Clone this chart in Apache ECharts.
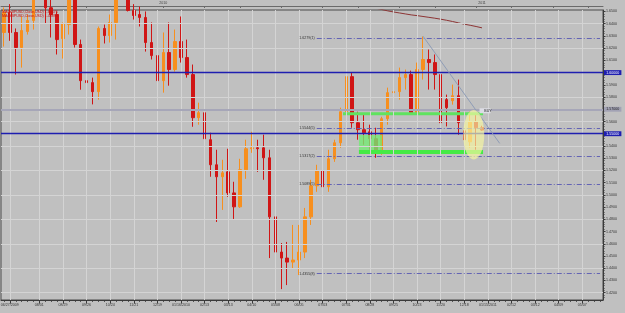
<!DOCTYPE html>
<html><head><meta charset="utf-8">
<script src="https://cdn.jsdelivr.net/npm/echarts@6/dist/echarts.min.js"></script>
<style>html,body{margin:0;padding:0;background:#c0c0c0;}#c{width:625px;height:313px;}</style>
</head><body><div id="c"></div>
<script>
// ---------- data ----------
const firstWeek = [2009, 5, 20];   // first weekly bar (label date)
const weekCount = 102;
const tickDates = ['06/27/2009','08/01/2009','08/29/2009','09/26/2009','10/24/2009','11/21/2009','12/19/2009','01/16/2010','02/13/2010','03/13/2010','04/10/2010','05/08/2010','06/05/2010','07/03/2010','07/31/2010','08/28/2010','09/25/2010','10/23/2010','11/20/2010','12/18/2010','01/15/2011','02/12/2011','03/12/2011','04/09/2011','05/07/2011'];
const tickText = ['06/27/2009','08/01','08/29','09/26','10/24','11/21','12/19','01/16/2010','02/13','03/13','04/10','05/08','06/05','07/03','07/31','08/28','09/25','10/23','11/20','12/18','01/15/2011','02/12','03/12','04/09','05/07'];
const yearDates = ['12/26/2009','01/08/2011'];
const yearText = ['2010','2011'];
const topTickIdx = [1,8,14,21,27,34,40,47,54,60,67,73,80,86,93,99];
const priceTicks = [1.42,1.43,1.44,1.45,1.46,1.47,1.48,1.49,1.50,1.51,1.52,1.53,1.54,1.55,1.56,1.57,1.58,1.59,1.60,1.61,1.62,1.63,1.64,1.65];
const gridLevels = [1.42,1.44,1.46,1.48,1.50,1.52,1.54,1.56,1.58,1.60,1.62,1.64];

const openP  = [1.6328,1.6492,1.6328,1.6205,1.6336,1.6426,1.6700,1.6640,1.6530,1.6475,1.6278,1.6393,1.6600,1.6230,1.5934,1.5918,1.5844,1.6361,1.6303,1.6410,1.6600,1.6700,1.6508,1.6475,1.6451,1.6246,1.6139,1.5934,1.6164,1.6025,1.6254,1.6123,1.5984,1.5631,1.5672,1.5451,1.5246,1.5148,1.5188,1.5016,1.4902,1.5205,1.5377,1.5385,1.5385,1.5303,1.4820,1.4532,1.4483,1.4450,1.4467,1.4532,1.4820,1.5074,1.5197,1.5066,1.5295,1.5426,1.5680,1.5967,1.5590,1.5533,1.5516,1.5459,1.5352,1.5623,1.5836,1.5844,1.5959,1.5984,1.5672,1.6025,1.6107,1.6082,1.5984,1.5779,1.5770,1.5811,1.5524,1.5434,1.5598,1.5549];
const closeP = [1.6492,1.6328,1.6205,1.6344,1.6426,1.6700,1.6640,1.6530,1.6475,1.6270,1.6402,1.6600,1.6230,1.5934,1.5918,1.5844,1.6361,1.6303,1.6410,1.6600,1.6700,1.6508,1.6467,1.6451,1.6246,1.6139,1.5934,1.6164,1.6025,1.6254,1.6123,1.5984,1.5631,1.5672,1.5459,1.5246,1.5148,1.5180,1.5016,1.4902,1.5205,1.5377,1.5385,1.5377,1.5303,1.4820,1.4532,1.4483,1.4450,1.4467,1.4532,1.4820,1.5074,1.5197,1.5066,1.5295,1.5426,1.5680,1.5967,1.5590,1.5533,1.5508,1.5459,1.5352,1.5623,1.5836,1.5844,1.5959,1.5984,1.5672,1.6025,1.6107,1.6082,1.5984,1.5590,1.5713,1.5811,1.5590,1.5451,1.5598,1.5549,1.5530];
const lowP   = [1.6213,1.6260,1.5984,1.6041,1.6311,1.6352,1.6560,1.6400,1.6287,1.6148,1.6115,1.6311,1.6205,1.5860,1.5779,1.5740,1.5779,1.6238,1.6246,1.6270,1.6550,1.6500,1.6434,1.6377,1.6172,1.6107,1.5918,1.5836,1.5893,1.6008,1.6082,1.5959,1.5557,1.5574,1.5344,1.5148,1.4778,1.4877,1.4984,1.4803,1.4893,1.5131,1.5344,1.5188,1.5123,1.4483,1.4483,1.4229,1.4262,1.4401,1.4344,1.4483,1.4754,1.5025,1.5016,1.5025,1.5270,1.5385,1.5647,1.5549,1.5451,1.5410,1.5369,1.5303,1.5328,1.5574,1.5779,1.5779,1.5861,1.5656,1.5656,1.5943,1.5861,1.5861,1.5549,1.5560,1.5738,1.5492,1.5369,1.5385,1.5369,1.5524];
const highP  = [1.6533,1.6560,1.6361,1.6459,1.6475,1.6740,1.7043,1.6740,1.6650,1.6500,1.6410,1.6700,1.6650,1.6270,1.6123,1.5959,1.6377,1.6393,1.6475,1.6660,1.6800,1.6850,1.6560,1.6540,1.6500,1.6410,1.6164,1.6328,1.6410,1.6352,1.6459,1.6270,1.6066,1.5754,1.5779,1.5508,1.5369,1.5287,1.5377,1.5107,1.5295,1.5451,1.5516,1.5451,1.5492,1.5369,1.5049,1.4606,1.4615,1.4754,1.4754,1.4893,1.5123,1.5246,1.5287,1.5369,1.5451,1.5713,1.6008,1.6000,1.5680,1.5656,1.5574,1.5549,1.5639,1.5877,1.5902,1.6041,1.6025,1.6016,1.6082,1.6295,1.6189,1.6148,1.6000,1.5820,1.5902,1.5943,1.5631,1.5680,1.5656,1.5565];

// moving average (visible part, first index 62)
const maStart = 62;
const maValues = [1.6540,1.6527,1.6516,1.6505,1.6496,1.6488,1.6480,1.6472,1.6466,1.6459,1.6452,1.6445,1.6437,1.6428,1.6418,1.6407,1.6396,1.6387,1.6377,1.6366];

// horizontal levels
const blueLevels = [1.6000, 1.5500];
const blueLevelText = ['1.60000','1.55000'];
const grayLevel = 1.5700;
const grayLevelText = '1.57000';
const lastPrice = 1.5530;
const lastPriceText = '1.55303';

// fibonacci levels
const fibLevels = [1.6279, 1.5544, 1.5317, 1.5089, 1.4355];
const fibText = ['1.6279(1)','1.5544(5)','1.5317(2)','1.5089(5)','1.4355(8)'];
const fibFrom = 53, fibTo = 101;

// trend line  [barIndex, price]
const trendFrom = [71, 1.6298];
const trendTo = [84, 1.5421];

// zones: start bar, end bar, top price, bottom price
const zoneStart  = [57.45, 60.15, 60.15];
const zoneEnd    = [81.17, 64.05, 81.17];
const zoneTop    = [1.5676, 1.5490, 1.5367];
const zoneBottom = [1.5652, 1.5334, 1.5334];
// ellipse: center bar, center price, radius in bars, radius in price
const ellipseC = [79.6, 1.5492];
const ellipseR = [1.78, 0.0202];
const buyPoint = [81, 1.5688];

const legendText = ['MA(GBPUSD,Close,USD) 1.63676', 'MA(GBPUSD,Close,USD) 1.48896'];

// ---------- build ----------
function pad(n){return (n<10?'0':'')+n;}
const categories = [];
for (let k=0;k<weekCount;k++){
  const d = new Date(Date.UTC(firstWeek[0],firstWeek[1],firstWeek[2]) + k*7*86400000);
  categories.push(pad(d.getUTCMonth()+1)+'/'+pad(d.getUTCDate())+'/'+d.getUTCFullYear());
}
const candleData = openP.map((o,i)=>[o, closeP[i], lowP[i], highP[i]]);
const maData = categories.map((c,k)=> (k>=maStart && k-maStart<maValues.length) ? maValues[k-maStart] : '-');
const minorTicks = [];
for (let v=1.416; v<1.651; v+=0.002) minorTicks.push(+v.toFixed(3));

const FONT = 'Liberation Sans';
const FS = 3.6;
const zoneColors = ['#5fe35f','#74e874','#45ea45'];

function barX(api, k){ // pixel x of a (fractional) bar index
  const bw = api.size([1,0])[0];
  return api.coord([0, 1.5])[0] + k*bw;
}

const chart = echarts.init(document.getElementById('c'), null, {renderer:'canvas'});
const option = {
  animation: false,
  backgroundColor: '#c0c0c0',
  textStyle: {fontFamily: FONT},
  grid: {left: 1, right: 22, top: 10, bottom: 13, containLabel: false, outerBoundsMode: 'none', show: true, borderColor: '#4a4a4a', borderWidth: 1, backgroundColor: 'transparent'},
  xAxis: [
    { type:'category', data: categories, position:'bottom', boundaryGap: true,
      axisLine:{show:true, lineStyle:{color:'#3a3a3a', width:1}},
      axisTick:{show:true, alignWithLabel:true, length:3.5, interval:(i,v)=>tickDates.includes(v), lineStyle:{color:'#3a3a3a'}},
      axisLabel:{show:true, interval:(i,v)=>tickDates.includes(v), formatter:(v)=>{const j=tickDates.indexOf(v); return j<0?'':tickText[j];}, fontSize:FS, color:'#333', margin:3, fontFamily:FONT},
      splitLine:{show:false}
    },
    { type:'category', data: categories, position:'bottom', boundaryGap: true,
      axisLine:{show:false}, axisLabel:{show:false}, splitLine:{show:false},
      axisTick:{show:true, alignWithLabel:true, interval:0, length:1.8, lineStyle:{color:'#3a3a3a'}}
    },
    { type:'category', data: categories, position:'top', offset: 4, boundaryGap: true,
      axisLine:{show:true, lineStyle:{color:'#6a6a6a', width:1}},
      axisTick:{show:true, inside:true, alignWithLabel:true, length:2, interval:(i)=>topTickIdx.includes(i), lineStyle:{color:'#6a6a6a'}},
      axisLabel:{show:true, interval:(i,v)=>yearDates.includes(v), formatter:(v)=>{const j=yearDates.indexOf(v); return j<0?'':yearText[j];}, fontSize:FS, color:'#444', margin:1, fontFamily:FONT},
      splitLine:{show:false}
    }
  ],
  yAxis: [
    { type:'value', position:'right', min:1.4140, max:1.6512, scale:true,
      axisLine:{show:true, lineStyle:{color:'#3a3a3a'}},
      axisTick:{show:true, length:2.5, customValues: priceTicks, lineStyle:{color:'#3a3a3a'}},
      axisLabel:{show:true, customValues: priceTicks, formatter:(v)=>v.toFixed(4), fontSize:FS, color:'#333', margin:3, fontFamily:FONT},
      splitLine:{show:false}
    },
    { type:'value', position:'right', min:1.4140, max:1.6512, scale:true,
      axisLine:{show:false}, axisLabel:{show:false}, splitLine:{show:false},
      axisTick:{show:true, length:1.5, customValues: minorTicks, lineStyle:{color:'#3a3a3a'}}
    }
  ],
  graphic: legendText.map((t,i)=>({type:'text', left:2, top:9.5+i*4.2, z:10, style:{text:t, fill:'#c41010', font:'3.6px "Liberation Sans"'}})),
  series: [
    { name:'grid', type:'line', data:[], z:0, silent:true,
      markLine:{silent:true, symbol:['none','none'], label:{show:false}, animation:false,
        lineStyle:{color:'#d4d4d4', width:1, type:'solid'},
        data: tickDates.map(d=>({xAxis:d})).concat(gridLevels.map(v=>({yAxis:v})))
      }
    },
    { name:'GBPUSD', type:'candlestick', data: candleData, z:2, barWidth:3,
      itemStyle:{color:'#f78f1e', color0:'#d01515', borderColor:'#f78f1e', borderColor0:'#d01515', borderWidth:1},
      markPoint:{silent:true, animation:false, data:[{coord:buyPoint, symbol:'rect', symbolSize:[11,5], symbolOffset:[3,0], itemStyle:{color:'#dcdce4'},
        label:{show:true, position:'inside', offset:[3,0], formatter:'BUY', fontSize:3.6, color:'#222', fontFamily:FONT}}]}
    },
    { name:'zones', type:'custom', z:3, silent:true, data: [[0, 1.5]],
      renderItem:(params, api)=>{
        const children = zoneStart.map((ks,i)=>{
          const x0 = barX(api, ks), x1 = barX(api, zoneEnd[i]);
          const yT = api.coord([0, zoneTop[i]])[1], yB = api.coord([0, zoneBottom[i]])[1];
          return {type:'rect', shape:{x:x0, y:yT, width:x1-x0, height:yB-yT}, style:{fill:zoneColors[i], opacity: i===1 ? 0.8 : 1}};
        });
        return {type:'group', children};
      }
    },
    { name:'MA', type:'line', data: maData, z:3, showSymbol:false, symbol:'none', silent:true,
      lineStyle:{color:'#8c3434', width:1}
    },
    { name:'levels', type:'line', data:[], z:4, silent:true,
      markLine:{silent:true, symbol:['none','none'], animation:false,
        label:{show:true, position:'end', distance:1, fontSize:FS, fontFamily:FONT, formatter:(p)=>p.name, padding:[0.6,2.2,0.3,2.2]},
        data: [
          {yAxis: blueLevels[0], name: blueLevelText[0], lineStyle:{color:'#1e1eb0', width:1.3, type:'solid'}, label:{backgroundColor:'#1e1eb0', color:'#fff'}},
          {yAxis: blueLevels[1], name: blueLevelText[1], lineStyle:{color:'#1e1eb0', width:1.3, type:'solid'}, label:{backgroundColor:'#1e1eb0', color:'#fff'}},
          {yAxis: grayLevel, name: grayLevelText, lineStyle:{color:'#a6a6b8', width:2, type:'solid'}, label:{backgroundColor:'#a2a2b4', color:'#222'}},
          {yAxis: lastPrice, name: lastPriceText, lineStyle:{opacity:0}, label:{backgroundColor:'#7ccfff', color:'#111'}}
        ].concat(fibLevels.map((v,i)=>[
          {coord:[fibFrom, v], name: fibText[i], lineStyle:{color:'#6464b4', width:1, type:[5,2,1,2]}, label:{position:'start', distance:2, color:'#333', backgroundColor:'transparent', padding:0}},
          {coord:[fibTo, v]}
        ])).concat([[
          {coord: trendFrom, name:'', lineStyle:{color:'#8e9cb6', width:1, type:'solid'}, label:{show:false}},
          {coord: trendTo}
        ]])
      }
    },
    { name:'ellipse', type:'custom', z:5, silent:true, data:[[0, 1.5]],
      renderItem:(params, api)=>{
        const cx = barX(api, ellipseC[0]);
        const cy = api.coord([0, ellipseC[1]])[1];
        const rx = api.size([1,0])[0]*ellipseR[0];
        const ry = Math.abs(api.coord([0, ellipseC[1]+ellipseR[1]])[1] - cy);
        const pts = [];
        for (let t=0;t<48;t++){const a=t/48*Math.PI*2; pts.push([cx+rx*Math.cos(a), cy+ry*Math.sin(a)]);}
        return {type:'polygon', shape:{points:pts}, style:{fill:'rgba(246,246,160,0.68)'}};
      }
    }
  ]
};
chart.setOption(option);
</script>
</body></html>
